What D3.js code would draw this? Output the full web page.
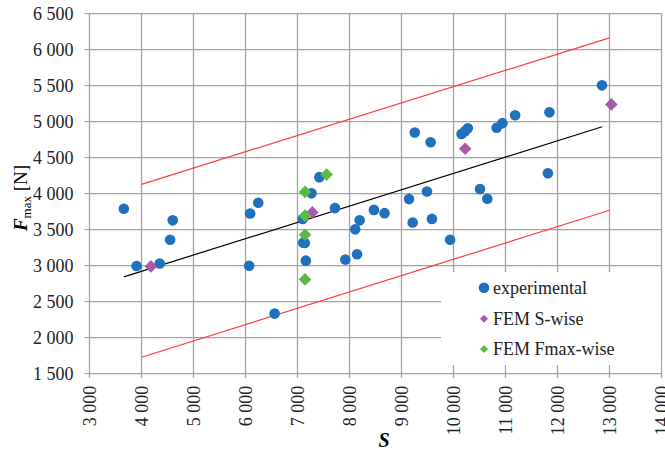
<!DOCTYPE html>
<html><head><meta charset="utf-8">
<script src="https://cdn.jsdelivr.net/npm/d3@7/dist/d3.min.js"></script>
<style>body{margin:0;background:#fff;} svg{display:block;font-family:"Liberation Serif","Times New Roman",serif;}</style>
</head><body>
<svg id="chart" width="665" height="454"></svg>
<script>
// ---- data ----
const expS = [3660,3905,4350,4550,4600,6070,6090,6245,6560,7100,7110,7140,7160,7270,7420,7720,7920,8110,8145,8195,8470,8675,9145,9215,9255,9490,9560,9585,9935,10155,10215,10275,10510,10650,10830,10940,11185,11815,11845,12855];
const expF = [3790,2995,3030,3360,3630,3000,3725,3875,2335,3650,3320,3315,3070,4005,4230,3800,3085,3505,3160,3630,3775,3730,3925,3600,4850,4030,4715,3650,3360,4830,4865,4910,4065,3930,4915,4980,5090,4285,5130,5505];
const semS = [4180,7285,10225,13035];
const semF = [2990,3740,4625,5240];
const fmxS = [7145,7560,7145,7145,7145];
const fmxF = [4025,4265,3695,3430,2810];
const trendS = [3660,12860];
const trendF = [2845,4930];
const bandS = [4000,13000];
const upperF = [4130,6165];
const lowerF = [1728,3770];
const xTicks = [3000,4000,5000,6000,7000,8000,9000,10000,11000,12000,13000,14000];
const yTicks = [1500,2000,2500,3000,3500,4000,4500,5000,5500,6000,6500];
const legendLabels = ["experimental","FEM S-wise","FEM Fmax-wise"];
const colors = {exp:"#1f70bd", sem:"#a65aa8", fmx:"#5db84a", band:"#ff3b3b", trend:"#000"};

// ---- layout ----
const svg = d3.select("#chart");
const L = 89.5, R = 661.5, T = 13.7, B = 373.7;
const x = d3.scaleLinear().domain([3000,14000]).range([L,R]);
const y = d3.scaleLinear().domain([1500,6500]).range([B,T]);
const loc = d3.formatLocale({decimal:",", thousands:"\u00a0", grouping:[3], currency:["",""]});
const fmt = loc.format(",");
const grid = "#a3a3a3";

// grid
svg.append("g").selectAll("line").data(yTicks).join("line")
  .attr("x1",L-5).attr("x2",R).attr("y1",d=>y(d)).attr("y2",d=>y(d))
  .attr("stroke",grid).attr("stroke-width",1.3);
svg.append("g").selectAll("line").data(xTicks).join("line")
  .attr("x1",d=>x(d)).attr("x2",d=>x(d)).attr("y1",T).attr("y2",B+4)
  .attr("stroke",grid).attr("stroke-width",1.3);

// y tick labels
svg.append("g").selectAll("text").data(yTicks).join("text")
  .attr("x",L-16).attr("y",d=>y(d)).attr("dy","0.35em")
  .attr("text-anchor","end").attr("font-size",18).attr("fill","#222")
  .text(d=>fmt(d));
// x tick labels (rotated)
svg.append("g").selectAll("text").data(xTicks).join("text")
  .attr("transform",d=>`translate(${x(d)},${B+12}) rotate(-90)`)
  .attr("dy","0.35em").attr("text-anchor","end").attr("font-size",18).attr("fill","#222")
  .text(d=>fmt(d));

// axis titles
svg.append("text").attr("x",384).attr("y",447).attr("text-anchor","middle")
  .attr("font-size",20).attr("font-weight","bold").attr("font-style","italic").text("S");
const yt = svg.append("text").attr("transform","translate(27,198) rotate(-90)")
  .attr("text-anchor","middle").attr("font-size",19);
yt.append("tspan").attr("font-weight","bold").attr("font-style","italic").text("F");
yt.append("tspan").attr("font-size",13).attr("dy",4).text("max");
yt.append("tspan").attr("dy",-4).text(" [N]");

// lines
const line = d3.line().x(d=>x(d[0])).y(d=>y(d[1]));
svg.append("path").attr("d",line(d3.zip(bandS,upperF))).attr("stroke",colors.band).attr("stroke-width",1.2).attr("fill","none");
svg.append("path").attr("d",line(d3.zip(bandS,lowerF))).attr("stroke",colors.band).attr("stroke-width",1.2).attr("fill","none");
svg.append("path").attr("d",line(d3.zip(trendS,trendF))).attr("stroke",colors.trend).attr("stroke-width",1.2).attr("fill","none");

// points
const diamond = s => `M0,${-s}L${s},0L0,${s}L${-s},0Z`;
svg.append("g").selectAll("circle").data(d3.zip(expS,expF)).join("circle")
  .attr("cx",d=>x(d[0])).attr("cy",d=>y(d[1])).attr("r",5.3).attr("fill",colors.exp);
svg.append("g").selectAll("path").data(d3.zip(semS,semF)).join("path")
  .attr("transform",d=>`translate(${x(d[0])},${y(d[1])})`).attr("d",diamond(6.3)).attr("fill",colors.sem);
svg.append("g").selectAll("path").data(d3.zip(fmxS,fmxF)).join("path")
  .attr("transform",d=>`translate(${x(d[0])},${y(d[1])})`).attr("d",diamond(6.3)).attr("fill",colors.fmx);

// legend
const lg = svg.append("g");
lg.append("rect").attr("x",441).attr("y",272).attr("width",220).attr("height",93).attr("fill","#fff");
const rows = [287.7,318.7,349];
lg.append("circle").attr("cx",484).attr("cy",rows[0]).attr("r",5.3).attr("fill",colors.exp);
lg.append("path").attr("transform",`translate(484,${rows[1]})`).attr("d",diamond(4)).attr("fill",colors.sem);
lg.append("path").attr("transform",`translate(484,${rows[2]})`).attr("d",diamond(4)).attr("fill",colors.fmx);
lg.selectAll("text").data(legendLabels).join("text")
  .attr("x",493).attr("y",(d,i)=>rows[i]).attr("dy","0.35em").attr("font-size",18).attr("fill","#222")
  .text(d=>d);
</script>
</body></html>
